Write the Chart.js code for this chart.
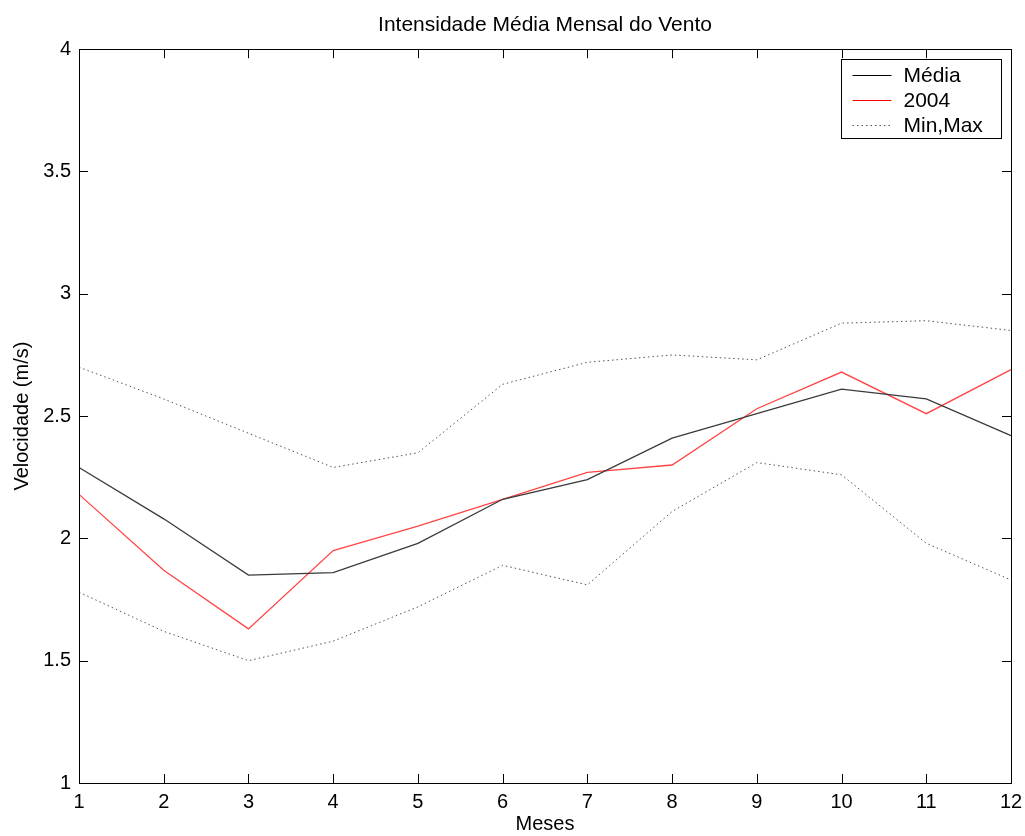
<!DOCTYPE html>
<html lang="pt">
  <head>
    <meta charset="utf-8" />
    <script src="https://cdn.jsdelivr.net/npm/chart.js@4.4.1/dist/chart.umd.min.js"></script>
    <style>
      body { margin: 0; background: #fff; }
    </style>
  </head>

  <body>
    <div style="width: 1025px; height: 836px">
      <canvas id="vento" width="1025" height="836"></canvas>
    </div>

    <script>
      // valores (m/s)
      const meses = ["1", "2", "3", "4", "5", "6", "7", "8", "9", "10", "11", "12"];
      const media = [2.29, 2.08, 1.85, 1.86, 1.98, 2.16, 2.24, 2.41, 2.51, 2.61, 2.57, 2.42];
      const ano2004 = [2.18, 1.87, 1.63, 1.95, 2.05, 2.16, 2.27, 2.30, 2.53, 2.68, 2.51, 2.69];
      const minimo = [1.78, 1.62, 1.50, 1.58, 1.72, 1.89, 1.81, 2.11, 2.31, 2.26, 1.98, 1.83];
      const maximo = [2.70, 2.57, 2.43, 2.29, 2.35, 2.63, 2.72, 2.75, 2.73, 2.88, 2.89, 2.85];

      const fonte = "'Liberation Sans', Arial, sans-serif";
      Chart.defaults.font.family = fonte;
      Chart.defaults.color = "#000";

      // caixa e marcas para dentro, estilo matlab
      const caixa = {
        id: "caixa",
        afterDraw(chart) {
          const ctx = chart.ctx;
          const a = chart.chartArea;
          const xs = chart.scales.x;
          const ys = chart.scales.y;
          const tam = 9;
          ctx.save();
          ctx.strokeStyle = "#000";
          ctx.lineWidth = 1;
          ctx.beginPath();
          xs.ticks.forEach((t, i) => {
            const px = Math.round(xs.getPixelForTick(i)) + 0.5;
            ctx.moveTo(px, a.bottom);
            ctx.lineTo(px, a.bottom - tam);
            ctx.moveTo(px, a.top);
            ctx.lineTo(px, a.top + tam);
          });
          ys.ticks.forEach((t) => {
            const py = Math.round(ys.getPixelForValue(t.value)) + 0.5;
            ctx.moveTo(a.left, py);
            ctx.lineTo(a.left + tam, py);
            ctx.moveTo(a.right, py);
            ctx.lineTo(a.right - tam, py);
          });
          ctx.stroke();
          ctx.strokeRect(Math.round(a.left) + 0.5, Math.round(a.top) + 0.5,
            Math.round(a.right - a.left), Math.round(a.bottom - a.top));

          // legenda
          const lx = 841.5, ly = 59.5, lw = 160, lh = 79;
          ctx.fillStyle = "#fff";
          ctx.fillRect(lx, ly, lw, lh);
          ctx.strokeRect(lx, ly, lw, lh);
          ctx.font = "21px " + fonte;
          ctx.textBaseline = "middle";
          let row = 0;
          chart.data.datasets.forEach((ds) => {
            if (ds.semLegenda) return;
            const y = Math.round(ly + 15 + row * 25) + 0.5;
            ctx.strokeStyle = ds.corLegenda || ds.borderColor;
            ctx.setLineDash(ds.borderDash || []);
            ctx.beginPath();
            ctx.moveTo(lx + 11, y);
            ctx.lineTo(lx + 50, y);
            ctx.stroke();
            ctx.setLineDash([]);
            ctx.fillStyle = "#000";
            ctx.fillText(ds.label, lx + 62, y + 1);
            row++;
          });
          ctx.restore();
        },
      };

      const ctx = document.getElementById("vento");
      new Chart(ctx, {
        type: "line",
        data: {
          labels: meses,
          datasets: [
            {
              label: "Média",
              data: media,
              borderColor: "#3a3a3a",
              corLegenda: "#000",
              borderWidth: 1.3,
              pointRadius: 0,
            },
            {
              label: "2004",
              data: ano2004,
              borderColor: "#ff4545",
              corLegenda: "#ff0000",
              borderWidth: 1.3,
              pointRadius: 0,
            },
            {
              label: "Min,Max",
              data: minimo,
              borderColor: "#555",
              borderDash: [1.5, 3],
              borderWidth: 1,
              pointRadius: 0,
            },
            {
              label: "Max",
              data: maximo,
              borderColor: "#555",
              borderDash: [1.5, 3],
              borderWidth: 1,
              pointRadius: 0,
              semLegenda: true,
            },
          ],
        },
        options: {
          responsive: false,
          animation: false,
          layout: { padding: 0 },
          plugins: {
            legend: { display: false },
            tooltip: { enabled: false },
            title: {
              display: true,
              fullSize: false,
              text: "Intensidade Média Mensal do Vento",
              font: { size: 21, weight: "normal" },
              padding: { top: 13, bottom: 11 },
              color: "#000",
            },
          },
          scales: {
            x: {
              offset: false,
              grid: { display: false, drawTicks: false },
              border: { display: false },
              ticks: { font: { size: 20 }, padding: 7, maxRotation: 0, autoSkip: false },
              title: {
                display: true,
                text: "Meses",
                font: { size: 20 },
                padding: { top: 0, bottom: 0 },
              },
              afterFit(scale) {
                scale.height = 53;
                scale.paddingRight = 14;
              },
            },
            y: {
              min: 1,
              max: 4,
              grid: { display: false, drawTicks: false },
              border: { display: false },
              ticks: {
                stepSize: 0.5,
                font: { size: 20 },
                padding: 8,
                callback: (v) => String(v),
              },
              title: {
                display: true,
                text: "Velocidade (m/s)",
                font: { size: 20 },
                padding: { top: 10, bottom: 0 },
              },
              afterFit(scale) {
                scale.width = 79;
              },
            },
          },
        },
        plugins: [caixa],
      });
    </script>
  </body>
</html>
